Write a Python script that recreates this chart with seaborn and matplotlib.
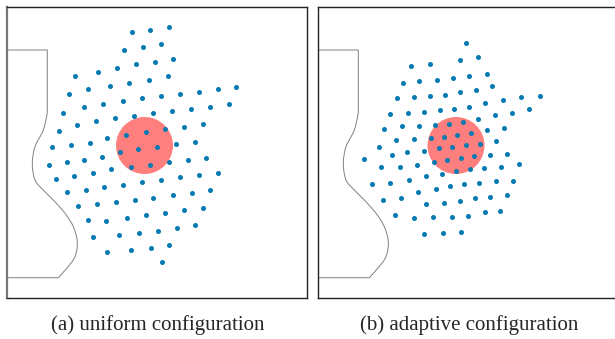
import numpy as np
import matplotlib.pyplot as plt
from matplotlib.path import Path
from matplotlib.patches import PathPatch, Circle
import seaborn as sns

sns.set_theme(style="white")
plt.rcParams['font.family'] = ['Liberation Serif', 'DejaVu Serif']

# sensor positions (panel units, 300 x 291 field)
uniform_x = [161.7, 143.3, 124.7, 154.3, 136, 117.3, 166, 147.5, 128.7, 109.7,
             90.7, 68, 160.7, 141.7, 122, 103.3, 81, 62.3, 229, 210.7,
             192, 172.7, 153.7, 134.7, 115.7, 96, 76.7, 56, 222, 203.3,
             184.3, 165.3, 146.3, 127, 108, 89.3, 70.3, 52.3, 195.7, 176.7,
             158, 138.7, 119.3, 100.3, 82.7, 64, 45.3, 188, 169.3, 150.2,
             131.3, 112.7, 95.3, 77, 59.7, 41.7, 199.3, 180.7, 162, 143,
             123.7, 104.3, 85.7, 67.3, 49, 210.7, 192, 173.3, 154.3, 135.3,
             116.3, 97.3, 79, 60, 203.3, 184.7, 166, 146.3, 127.7, 108.7,
             90, 71, 196, 177.3, 158, 139, 120, 99.3, 80.7, 188.3,
             169.7, 150.5, 131.7, 112, 86, 162.3, 143.5, 124.3, 100.3, 155.3]
uniform_y = [270.7, 268, 265.7, 253.7, 250.7, 248.3, 239.3, 235.8, 233.7, 230,
             226.3, 222.3, 221.7, 217.7, 215.3, 212, 209, 204, 211.3, 208.7,
             205.7, 204, 201.7, 199.7, 197.3, 194.3, 191, 185.3, 194, 191.3,
             189.3, 186.7, 184.7, 182, 179.7, 176.7, 172.7, 167.3, 173.7, 171.3,
             169, 166.3, 163, 160, 155.3, 152.7, 151.3, 155.7, 153.7, 151.3,
             149, 145.7, 141, 137.7, 136.3, 133.3, 140.3, 138, 135.7, 133.2,
             131, 128.7, 124.7, 122.3, 118.7, 125, 123, 120.7, 118, 115.7,
             113.3, 110.7, 108.3, 105.7, 107.7, 105.3, 103, 100.3, 98, 95.7,
             93.7, 92, 90.3, 87.7, 85.3, 83, 80.3, 77.3, 78, 73,
             70.3, 67, 65.3, 62.7, 60.7, 53, 50, 47.7, 45.7, 35.7]

adaptive_x = [148.3, 142.3, 160.3, 92.7, 111.7, 85.3, 101, 118.7, 135.3, 150.5,
              169, 79.3, 96, 112, 127, 141.6, 158.3, 174, 72.3, 90,
              105.7, 122, 136, 151, 167, 185, 203, 221.7, 66.3, 84.3,
              101.3, 117.3, 131.3, 145.3, 160.3, 176.7, 194.3, 211, 61.3, 78.3,
              96, 112.7, 126, 139.3, 153, 168.7, 185.7, 121, 134.3, 147.7,
              162.3, 178.3, 46, 74, 89, 106.3, 115.7, 129.3, 143, 156,
              171.7, 189.3, 63, 82, 99.3, 123.7, 137.7, 151.5, 166.3, 183.3,
              201.3, 53.7, 72.3, 91.3, 108.3, 117.7, 131.7, 146, 161.3, 178.3,
              195, 65, 83.3, 100.3, 108, 125.7, 142, 156.7, 172, 189,
              76.7, 96.3, 115.3, 134.3, 149.7, 167.3, 182.3, 106.3, 125, 143.3]
adaptive_y = [254.7, 238, 240.7, 232, 234, 215, 216.7, 218.3, 220, 222.5,
              224.3, 200, 200.7, 202, 203.3, 205.7, 208, 211.7, 183.7, 184.7,
              185.7, 187.7, 189, 191.5, 195.3, 198, 201, 202.3, 169, 172,
              171.7, 173.3, 174.3, 176.3, 179, 182.7, 185.3, 188.7, 151, 158,
              158.7, 160.3, 161.3, 163, 165, 168, 170.3, 149.7, 151, 152.7,
              154.3, 156.7, 139.3, 143.3, 145.7, 147, 136, 138.3, 140.2, 141.7,
              142.7, 143.7, 130.7, 130.7, 133, 124.3, 127, 128.7, 129.7, 130.7,
              133.7, 114.3, 114.7, 117.7, 121.7, 108.7, 112, 114, 115.3, 117,
              117.3, 97.7, 100.3, 105.7, 94.3, 95.3, 97.2, 100.3, 101.3, 103,
              83, 80, 80.7, 80.7, 82.5, 85.7, 87, 64, 64.7, 65.7]

# target area (centre and radius) per panel
target_uniform = (137.5, 152.5)
target_adaptive = (138, 152.5)
target_radius = 28.5

# wall outline: straight top part, curved coast, straight bottom part
wall_top = [(0, 248), (40.3, 248), (40.3, 186)]
wall_curve_x = [40.3, 36.3, 28, 25.3, 28, 36.3, 46.3, 58, 66.3, 70.3, 68, 59.7, 51.3]
wall_curve_y = [186, 168, 151.3, 134.7, 118, 108, 98, 84.7, 71.3, 56.3, 41.3, 29.7, 20.3]
wall_bottom = [(0, 20.3)]

dot_color = '#0579b1'
target_color = '#ff7f7f'
captions = ['(a) uniform configuration', '(b) adaptive configuration']


def wall_path():
    verts = list(wall_top)
    codes = [Path.MOVETO, Path.LINETO, Path.LINETO]
    pts = np.column_stack([wall_curve_x, wall_curve_y]).astype(float)
    ext = np.vstack([pts[0] + [0, 15], pts, pts[-1]])
    for i in range(1, len(pts)):
        p0, p1, p2, p3 = ext[i - 1], ext[i], ext[i + 1], ext[i + 2]
        verts += [tuple(p1 + (p2 - p0) / 6), tuple(p2 - (p3 - p1) / 6), tuple(p2)]
        codes += [Path.CURVE4] * 3
    verts += wall_bottom
    codes += [Path.LINETO]
    return Path(verts, codes)


def draw_panel(ax, xs, ys, target):
    ax.add_patch(PathPatch(wall_path(), facecolor='none', edgecolor='#808080',
                           lw=0.7, zorder=1))
    ax.add_patch(Circle(target, target_radius, color=target_color, lw=0, zorder=2))
    sns.scatterplot(x=xs, y=ys, ax=ax, color=dot_color, s=13, linewidth=0, zorder=3)
    ax.set_xlim(0, 300)
    ax.set_ylim(0, 290.7)
    ax.set_xticks([])
    ax.set_yticks([])
    for sp in ax.spines.values():
        sp.set_color('#222222')
        sp.set_linewidth(1.0)


fig = plt.figure(figsize=(6.15, 3.39), dpi=100)
ax1 = fig.add_axes([7 / 615, 41 / 339, 300 / 615, 290.7 / 339])
ax2 = fig.add_axes([318 / 615, 41 / 339, 300 / 615, 290.7 / 339])

draw_panel(ax1, uniform_x, uniform_y, target_uniform)
draw_panel(ax2, adaptive_x, adaptive_y, target_adaptive)
ax1.spines['left'].set_color('#777777')
ax1.spines['left'].set_linewidth(1.6)

fig.text(157.5 / 615, 1 - 325 / 339, captions[0], ha='center', va='center', fontsize=15)
fig.text(469 / 615, 1 - 325 / 339, captions[1], ha='center', va='center', fontsize=15)

fig.savefig('out.png', dpi=100)
plt.close(fig)
